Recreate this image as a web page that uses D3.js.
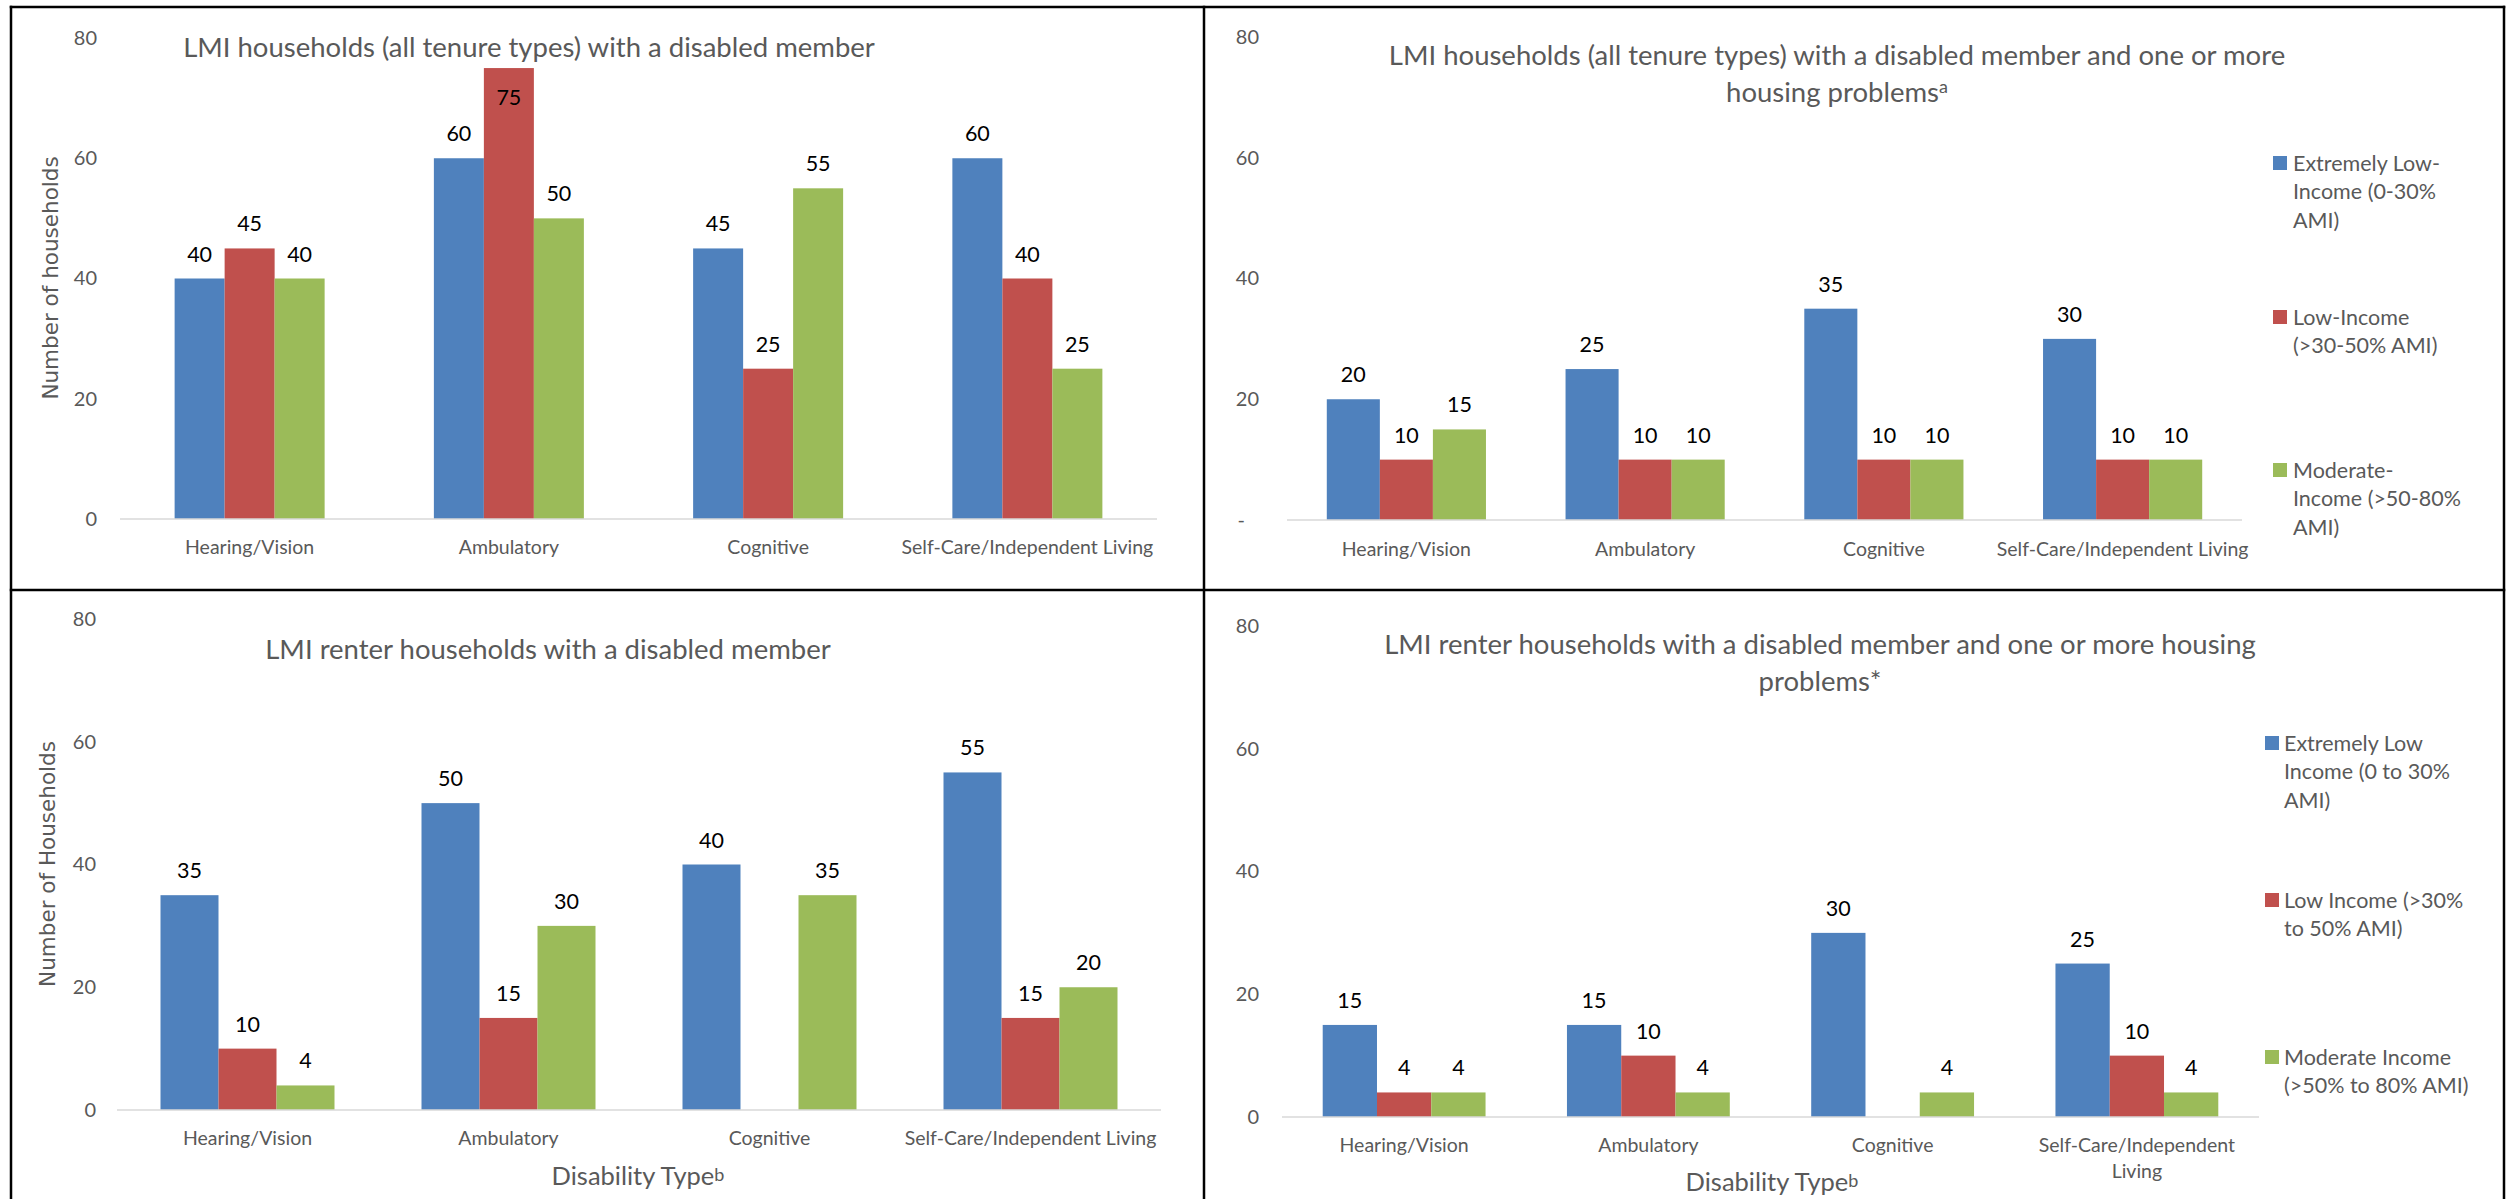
<!DOCTYPE html>
<html><head><meta charset="utf-8">
<script src="https://cdn.jsdelivr.net/npm/d3@7"></script>
<style>
html,body{margin:0;padding:0;background:#fff;}
svg{display:block;}
</style></head><body>
<svg id="chart" width="2518" height="1199"></svg>
<script>
// ---------- DATA ----------
const categories = ["Hearing/Vision", "Ambulatory", "Cognitive", "Self-Care/Independent Living"];
const yTickValues = [0, 20, 40, 60, 80];
const seriesKeys = ["extremelyLow", "low", "moderate"];
const seriesColors = ["#4F81BD", "#C0504D", "#9BBB59"];

// Panel 1: LMI households (all tenure types) with a disabled member
const p1TitleLines = ["LMI households (all tenure types) with a disabled member"];
const p1ExtremelyLow = [40, 60, 45, 60];
const p1Low = [45, 75, 25, 40];
const p1Moderate = [40, 50, 55, 25];

// Panel 2: ... and one or more housing problems
const p2TitleLines = ["LMI households (all tenure types) with a disabled member and one or more", "housing problems"];
const p2TitleSup = "a";
const p2ExtremelyLow = [20, 25, 35, 30];
const p2Low = [10, 10, 10, 10];
const p2Moderate = [15, 10, 10, 10];
const p2LegendLines = [["Extremely Low-", "Income (0-30%", "AMI)"], ["Low-Income", "(>30-50% AMI)"], ["Moderate-", "Income (>50-80%", "AMI)"]];

// Panel 3: LMI renter households with a disabled member
const p3TitleLines = ["LMI renter households with a disabled member"];
const p3ExtremelyLow = [35, 50, 40, 55];
const p3Low = [10, 15, null, 15];
const p3Moderate = [4, 30, 35, 20];

// Panel 4: LMI renter households ... housing problems
const p4TitleLines = ["LMI renter households with a disabled member and one or more housing", "problems*"];
const p4ExtremelyLow = [15, 15, 30, 25];
const p4Low = [4, 10, null, 10];
const p4Moderate = [4, 4, 4, 4];
const p4LegendLines = [["Extremely Low", "Income (0 to 30%", "AMI)"], ["Low Income (>30%", "to 50% AMI)"], ["Moderate Income", "(>50% to 80% AMI)"]];
const p4CategoryLines = [["Hearing/Vision"], ["Ambulatory"], ["Cognitive"], ["Self-Care/Independent", "Living"]];

const xTitleText = "Disability Type";
const xTitleSup = "b";

// ---------- STYLE ----------
const FONT = "Lato, 'Open Sans', sans-serif";
const GRAY = "#595959";
const svg = d3.select("#chart");

const panels = [
  { series: [p1ExtremelyLow, p1Low, p1Moderate], plotX: [120, 1157], plotY: [519, 38], tickX: 97, pad: 0.4214,
    title: p1TitleLines, titleX: 529, titleBase: [57], yTitle: { text: "Number of households", x: 50, y: 278 },
    catY: 547, zeroLabel: "0" },
  { series: [p2ExtremelyLow, p2Low, p2Moderate], plotX: [1287, 2242], plotY: [520, 37], tickX: 1259, pad: 1/3,
    title: p2TitleLines, titleSup: p2TitleSup, titleX: 1837, titleBase: [65, 102],
    catY: 549, zeroLabel: "-",
    legend: { lines: p2LegendLines, sqX: 2273, textX: 2293, centres: [163, 317, 470], lh: 28.5 } },
  { series: [p3ExtremelyLow, p3Low, p3Moderate], plotX: [117, 1161], plotY: [1110, 619], tickX: 96, pad: 1/3,
    title: p3TitleLines, titleX: 548, titleBase: [659], yTitle: { text: "Number of Households", x: 47, y: 864 },
    catY: 1138, zeroLabel: "0", xTitle: { x: 638, base: 1185 } },
  { series: [p4ExtremelyLow, p4Low, p4Moderate], plotX: [1282, 2259], plotY: [1117, 626], tickX: 1259, pad: 1/3,
    title: p4TitleLines, titleX: 1820, titleBase: [654, 691],
    catY: 1145, catLines: p4CategoryLines, zeroLabel: "0", xTitle: { x: 1772, base: 1191 },
    legend: { lines: p4LegendLines, sqX: 2265, textX: 2284, centres: [743, 900, 1057], lh: 28.5 } }
];

function drawPanel(cfg) {
  const g = svg.append("g");
  const x0 = d3.scaleBand().domain(categories).range(cfg.plotX)
    .paddingInner(cfg.pad).paddingOuter(cfg.pad / 2);
  const x1 = d3.scaleBand().domain(seriesKeys).range([0, x0.bandwidth()]);
  const y = d3.scaleLinear().domain([0, 80]).range(cfg.plotY);
  const color = d3.scaleOrdinal().domain(seriesKeys).range(seriesColors);

  const rows = categories.map((c, i) => ({
    cat: c,
    values: seriesKeys.map((k, j) => ({ key: k, value: cfg.series[j][i] }))
  }));

  // y axis tick labels
  const ya = g.append("g").attr("transform", `translate(${cfg.tickX},0)`)
    .call(d3.axisLeft(y).tickValues(yTickValues).tickSize(0).tickPadding(0)
      .tickFormat(d => d === 0 ? cfg.zeroLabel : d3.format("d")(d)));
  ya.attr("font-family", null).attr("font-size", null);
  ya.select(".domain").remove();
  ya.selectAll("text").attr("fill", GRAY).style("font-family", FONT).style("font-size", "20px");
  if (cfg.zeroLabel === "-") ya.selectAll("text").filter(d => d === 0).attr("x", -14);

  // bars
  const cg = g.selectAll("g.cat").data(rows).join("g").attr("class", "cat")
    .attr("transform", d => `translate(${x0(d.cat)},0)`);
  cg.selectAll("rect").data(d => d.values.filter(v => v.value != null)).join("rect")
    .attr("x", d => x1(d.key)).attr("y", d => y(d.value))
    .attr("width", x1.bandwidth()).attr("height", d => y(0) - y(d.value))
    .attr("fill", d => color(d.key));

  // data labels
  const minBase = cfg.plotY[1] + 67;
  cg.selectAll("text.lbl").data(d => d.values.filter(v => v.value != null)).join("text")
    .attr("class", "lbl")
    .attr("x", d => x1(d.key) + x1.bandwidth() / 2)
    .attr("y", d => Math.max(y(d.value) - 17, minBase))
    .attr("text-anchor", "middle").attr("fill", "#000")
    .style("font-family", FONT).style("font-size", "21.5px")
    .text(d => d.value);

  // baseline (category axis line)
  g.append("line").attr("x1", cfg.plotX[0]).attr("x2", cfg.plotX[1])
    .attr("y1", y(0)).attr("y2", y(0)).attr("stroke", "#D9D9D9").attr("stroke-width", 1.6);

  // category axis labels
  const xa = g.append("g").attr("transform", `translate(0,${y(0)})`)
    .call(d3.axisBottom(x0).tickSize(0));
  xa.attr("font-family", null).attr("font-size", null);
  xa.select(".domain").remove();
  const lh = 26;
  xa.selectAll("text").attr("fill", GRAY).style("font-family", FONT).style("font-size", "19.5px")
    .attr("y", cfg.catY - y(0)).attr("dy", "0.35em")
    .each(function (d, i) {
      if (!cfg.catLines) return;
      const t = d3.select(this).text(null);
      cfg.catLines[i].forEach((ln, k) => {
        t.append("tspan").attr("x", 0).attr("dy", k === 0 ? "0.35em" : lh).text(ln);
      });
      t.attr("dy", null);
    });

  // title
  const tt = g.append("text").attr("text-anchor", "middle").attr("fill", GRAY)
    .style("font-family", FONT).style("font-size", "27.5px");
  cfg.title.forEach((ln, k) => {
    tt.append("tspan").attr("x", cfg.titleX).attr("y", cfg.titleBase[k]).text(ln);
  });
  if (cfg.titleSup) {
    tt.append("tspan").attr("dy", -9).style("font-size", "18px").text(cfg.titleSup);
  }

  // y title
  if (cfg.yTitle) {
    g.append("text").attr("transform", `translate(${cfg.yTitle.x},${cfg.yTitle.y}) rotate(-90)`)
      .attr("text-anchor", "middle").attr("dy", "0.35em").attr("fill", GRAY)
      .style("font-family", "'DejaVu Sans', sans-serif").style("font-size", "21.5px")
      .text(cfg.yTitle.text);
  }

  // x title
  if (cfg.xTitle) {
    const xt = g.append("text").attr("x", cfg.xTitle.x).attr("y", cfg.xTitle.base)
      .attr("text-anchor", "middle").attr("fill", GRAY)
      .style("font-family", FONT).style("font-size", "25.5px");
    xt.append("tspan").text(xTitleText);
    xt.append("tspan").attr("dy", -4).style("font-size", "18px").text(xTitleSup);
  }

  // legend
  if (cfg.legend) {
    const L = cfg.legend;
    const lg = g.append("g");
    seriesKeys.forEach((k, i) => {
      lg.append("rect").attr("x", L.sqX).attr("y", L.centres[i] - 7).attr("width", 14).attr("height", 14)
        .attr("fill", color(k));
      const t = lg.append("text").attr("fill", GRAY).style("font-family", FONT).style("font-size", "21.5px");
      L.lines[i].forEach((ln, j) => {
        t.append("tspan").attr("x", L.textX).attr("y", L.centres[i] + j * L.lh).attr("dy", "0.35em").text(ln);
      });
    });
  }
}

panels.forEach(drawPanel);

// table borders
const borders = [
  [11, 7, 2504, 7], [11, 7, 11, 1199], [2504, 7, 2504, 1199],
  [1204, 7, 1204, 1199], [11, 590, 2504, 590]
];
svg.append("g").selectAll("line").data(borders).join("line")
  .attr("x1", d => d[0]).attr("y1", d => d[1]).attr("x2", d => d[2]).attr("y2", d => d[3])
  .attr("stroke", "#000").attr("stroke-width", 2.5).attr("stroke-linecap", "square");
</script>
</body></html>
